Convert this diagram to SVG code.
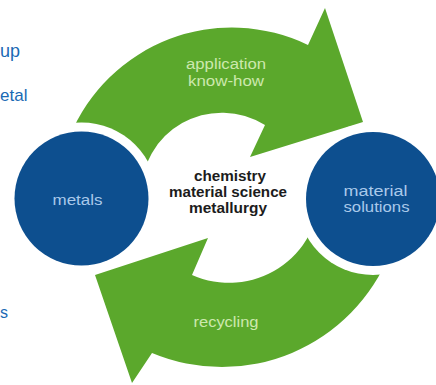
<svg xmlns="http://www.w3.org/2000/svg" width="436" height="385" viewBox="0 0 436 385">
<style>
.band{fill:#5ba82c}
.ring{fill:#ffffff}
.disc{fill:#0d4f8f}
.side{font-family:"Liberation Sans",Arial,sans-serif;fill:#1a6ab4}
.inband{font-family:"Liberation Sans",Arial,sans-serif;fill:#cde8ae;text-anchor:middle;font-size:14px}
.indisc{font-family:"Liberation Sans",Arial,sans-serif;fill:#a9c9ea;text-anchor:middle;font-size:14px}
.core{font-family:"Liberation Sans",Arial,sans-serif;font-weight:bold;fill:#1c1c1c;text-anchor:middle;font-size:14px}
</style>
<rect width="436" height="385" fill="#ffffff"/>
<g id="side-text">
<text class="side" x="0" y="57" font-size="18">up</text>
<text class="side" x="0" y="101" font-size="17">etal</text>
<text class="side" x="0" y="318" font-size="16">s</text>
</g>
<g id="connectors">
<g id="arrow-application">
<path class="band" d="M 70,136 A 175 175 0 0 1 308,45 L 325,8 L 363,122 L 250,157 L 265,125 A 81 81 0 0 0 141,195 Z"/>
<text class="inband" x="226" y="69" textLength="80" lengthAdjust="spacingAndGlyphs">application</text>
<text class="inband" x="226" y="86" textLength="76" lengthAdjust="spacingAndGlyphs">know-how</text>
</g>
<g id="arrow-recycling">
<path class="band" d="M 390,253 A 181 181 0 0 1 152,353 L 132,383 L 95,275 L 208,238 L 192,275 A 91 91 0 0 0 320,192 Z"/>
<text class="inband" x="226" y="327" textLength="65" lengthAdjust="spacingAndGlyphs">recycling</text>
</g>
</g>
<g id="node-metals">
<circle class="ring" cx="81.5" cy="198.5" r="76"/>
<circle class="disc" cx="81.5" cy="198.5" r="67"/>
<text class="indisc" x="77.5" y="205" textLength="50" lengthAdjust="spacingAndGlyphs">metals</text>
</g>
<g id="node-material-solutions">
<circle class="ring" cx="373" cy="199" r="76"/>
<circle class="disc" cx="373" cy="199" r="67"/>
<text class="indisc" x="375.5" y="196" textLength="64" lengthAdjust="spacingAndGlyphs">material</text>
<text class="indisc" x="376.5" y="212" textLength="66" lengthAdjust="spacingAndGlyphs">solutions</text>
</g>
<g id="node-core">
<text class="core" x="230" y="181" textLength="72" lengthAdjust="spacingAndGlyphs">chemistry</text>
<text class="core" x="228" y="197" textLength="118" lengthAdjust="spacingAndGlyphs">material science</text>
<text class="core" x="228" y="213" textLength="78" lengthAdjust="spacingAndGlyphs">metallurgy</text>
</g>
</svg>
